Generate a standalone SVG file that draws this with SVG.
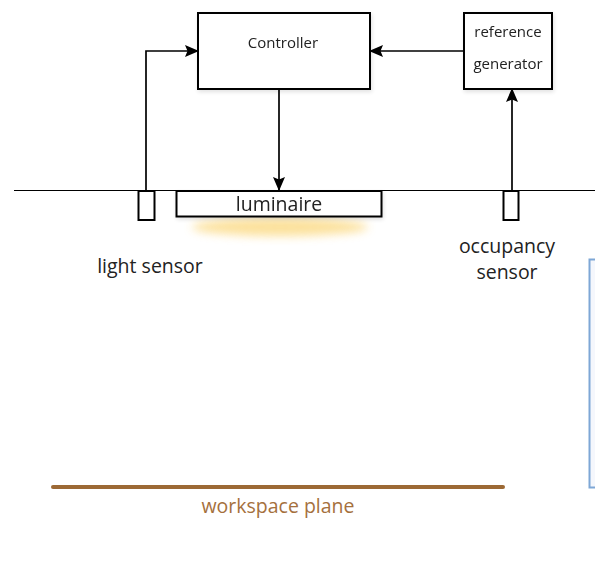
<svg xmlns="http://www.w3.org/2000/svg" width="595" height="564" viewBox="0 0 595 564">
  <style>
    .box { fill: #ffffff; stroke: #000000; stroke-width: 2; }
    .wire { fill: none; stroke: #000000; stroke-width: 1.7; }
    .lbl { font-family: "Open Sans", "Liberation Sans", sans-serif; fill: #222222; text-anchor: middle; }
  </style>
  <defs>
    <marker id="arrowBig" viewBox="0 0 14 12" refX="13" refY="6" markerWidth="14" markerHeight="12" markerUnits="userSpaceOnUse" orient="auto">
      <path d="M0,0 L14,6 L0,12 L2.5,6 z" fill="#000000"/>
    </marker>
    <filter id="glowBlur" x="-20%" y="-100%" width="140%" height="300%">
      <feGaussianBlur stdDeviation="5"/>
    </filter>
    <filter id="shadow" x="-10%" y="-10%" width="130%" height="130%">
      <feGaussianBlur in="SourceAlpha" stdDeviation="2"/>
      <feOffset dx="1" dy="2"/>
      <feComponentTransfer><feFuncA type="linear" slope="0.12"/></feComponentTransfer>
      <feMerge><feMergeNode/><feMergeNode in="SourceGraphic"/></feMerge>
    </filter>
  </defs>

  <rect width="595" height="564" fill="#ffffff"/>

  <!-- ceiling line -->
  <line x1="14" y1="190.5" x2="595" y2="190.5" stroke="#000000" stroke-width="1.2"/>

  <!-- light spill under the luminaire -->
  <ellipse cx="280" cy="227" rx="88" ry="9" fill="#fbd77a" opacity="0.75" filter="url(#glowBlur)"/>

  <g id="controller" filter="url(#shadow)">
    <rect class="box" x="198" y="13" width="172" height="76"/>
    <text class="lbl" x="283" y="48" font-size="15">Controller</text>
  </g>

  <g id="reference-generator" filter="url(#shadow)">
    <rect class="box" x="464" y="13" width="88" height="76"/>
    <text class="lbl" x="508" y="37" font-size="15">reference</text>
    <text class="lbl" x="508" y="69" font-size="15">generator</text>
  </g>

  <g id="luminaire" filter="url(#shadow)">
    <rect class="box" x="176.5" y="191" width="205" height="25.5"/>
    <text class="lbl" x="279" y="211" font-size="19.5">luminaire</text>
  </g>

  <g id="light-sensor">
    <rect class="box" x="138.5" y="191" width="16" height="29"/>
    <text class="lbl" x="150" y="273" font-size="19.5">light sensor</text>
  </g>

  <g id="occupancy-sensor">
    <rect class="box" x="503.5" y="191" width="15" height="29"/>
    <text class="lbl" x="507" y="253" font-size="19.5">occupancy</text>
    <text class="lbl" x="507" y="279" font-size="19.5">sensor</text>
  </g>

  <g id="panel">
    <rect x="589.5" y="259.5" width="12" height="228" fill="#f5f7fc" stroke="#7ea7d6" stroke-width="2"/>
  </g>

  <g id="workspace-plane">
    <line x1="53" y1="487" x2="503" y2="487" stroke="#9c6935" stroke-width="4" stroke-linecap="round"/>
    <text x="278" y="513" font-size="19.5" font-family="'Open Sans', 'Liberation Sans', sans-serif" fill="#a5703d" text-anchor="middle">workspace plane</text>
  </g>

  <g id="connectors">
    <polyline class="wire" points="146,191 146,51 198,51" marker-end="url(#arrowBig)"/>
    <line class="wire" x1="464" y1="51" x2="370" y2="51" marker-end="url(#arrowBig)"/>
    <line class="wire" x1="279" y1="89" x2="279" y2="190" marker-end="url(#arrowBig)"/>
    <line class="wire" x1="512" y1="191" x2="512" y2="89" marker-end="url(#arrowBig)"/>
  </g>
</svg>
